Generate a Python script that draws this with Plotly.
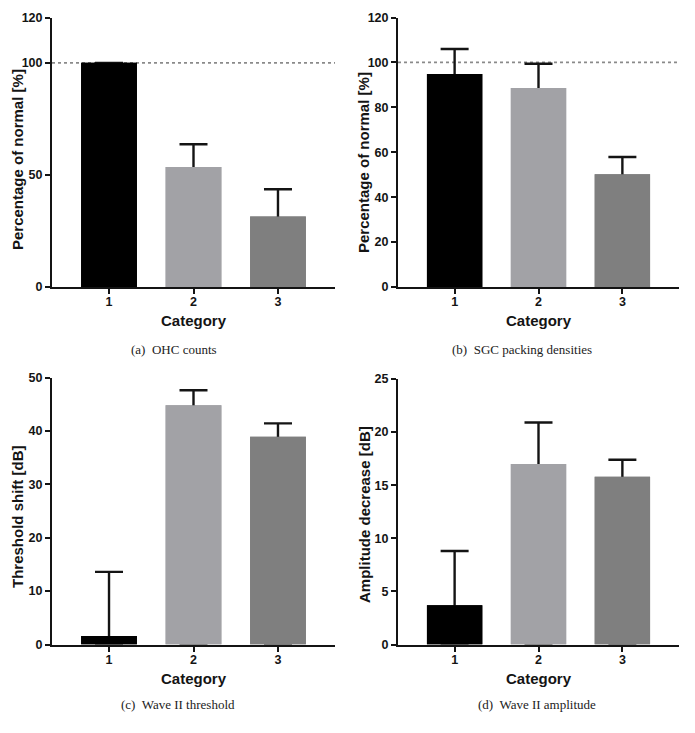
import plotly.graph_objects as go

# The page body adds an 8px margin, so the figure is drawn 8px in from the
# window's corner; size it so it fits the 695x733 window exactly.
OFF = 8
WIN_W, WIN_H = 695, 733
W, H = WIN_W - OFF, WIN_H - OFF

categories = [1, 2, 3]
bar_colors = ["#000000", "#a2a2a6", "#7f7f7f"]

# Panel data (means and upper SD)
ohc_mean = [100.0, 53.5, 31.4]
ohc_err = [0.0, 10.2, 12.2]

sgc_mean = [94.8, 88.6, 50.2]
sgc_err = [11.2, 10.8, 7.7]

thr_mean = [1.6, 44.8, 38.9]
thr_err = [12.0, 2.8, 2.5]

amp_mean = [3.7, 17.0, 15.8]
amp_err = [5.1, 3.9, 1.6]

panels = [
    dict(mean=ohc_mean, err=ohc_err, ytitle="Percentage of normal [%]", yrange=[0, 120],
         ytick=[0, 50, 100, 120], caption="(a)  OHC counts", ref=100),
    dict(mean=sgc_mean, err=sgc_err, ytitle="Percentage of normal [%]", yrange=[0, 120],
         ytick=[0, 20, 40, 60, 80, 100, 120], caption="(b)  SGC packing densities", ref=100),
    dict(mean=thr_mean, err=thr_err, ytitle="Threshold shift [dB]", yrange=[0, 50],
         ytick=[0, 10, 20, 30, 40, 50], caption="(c)  Wave II threshold", ref=None),
    dict(mean=amp_mean, err=amp_err, ytitle="Amplitude decrease [dB]", yrange=[0, 25],
         ytick=[0, 5, 10, 15, 20, 25], caption="(d)  Wave II amplitude", ref=None),
]

# window-pixel layout of each plot area: (left, right, top, bottom)
boxes = [(52, 335, 18, 287), (398, 679, 17.5, 287), (52, 335, 377.5, 644.5), (398, 679, 379, 644.5)]
ytitle_pos = [(17, 160), (364, 162), (17, 517), (364, 514)]
cat_y = [320, 320, 678, 678]
caption_pos = [(173.5, 350), (522, 350), (178, 704), (537, 704)]

def px(x):
    return (x - OFF) / W

def py(y):
    return 1 - (y - OFF) / H

fig = go.Figure()
annotations = []
shapes = []
INK = "#141414"
bold = dict(family="Liberation Sans, Arial, sans-serif", size=12.5, color=INK, weight="bold")
title_font = dict(family="Liberation Sans, Arial, sans-serif", size=15, color=INK, weight="bold")

for i, p in enumerate(panels):
    n = i + 1
    xa = "x" if n == 1 else f"x{n}"
    ya = "y" if n == 1 else f"y{n}"
    l, r, t, b = boxes[i]
    # bar with error bar reaching down to zero (lower part hidden by the cover bar and axis)
    fig.add_trace(go.Bar(
        x=categories, y=p["mean"], width=0.66,
        marker=dict(color=bar_colors, line=dict(width=0)),
        error_y=dict(type="data", array=p["err"], symmetric=False,
                     arrayminus=p["mean"], color=INK, thickness=2.4, width=14),
        xaxis=xa, yaxis=ya, showlegend=False, hoverinfo="skip",
    ))
    # cover bar drawn on top so that only the upper error whisker is visible
    fig.add_trace(go.Bar(
        x=categories, y=p["mean"], width=0.66,
        marker=dict(color=bar_colors, line=dict(width=0)),
        xaxis=xa, yaxis=ya, showlegend=False,
    ))
    axx = dict(domain=[px(l), px(r)], range=[0.325, 3.675], tickvals=categories,
               ticks="outside", ticklen=5, tickwidth=2, tickcolor=INK,
               showline=True, linewidth=2, linecolor=INK, showgrid=False,
               zeroline=False, tickfont=bold, anchor=ya, fixedrange=True,
               automargin=False, layer="above traces", ticklabelstandoff=-3)
    axy = dict(domain=[py(b), py(t)], range=p["yrange"], tickvals=p["ytick"],
               ticks="outside", ticklen=5, tickwidth=2, tickcolor=INK,
               showline=True, linewidth=2, linecolor=INK, showgrid=False,
               zeroline=False, tickfont=bold, anchor=xa, fixedrange=True,
               automargin=False, layer="above traces")
    fig.update_layout(**{("xaxis" if n == 1 else f"xaxis{n}"): axx,
                         ("yaxis" if n == 1 else f"yaxis{n}"): axy})
    if p["ref"] is not None:
        shapes.append(dict(type="line", xref=f"{xa} domain", yref=ya, x0=0, x1=1,
                           y0=p["ref"], y1=p["ref"], layer="below",
                           line=dict(color="#8a8a8a", width=1.8, dash="dot")))
    tx, ty = ytitle_pos[i]
    annotations.append(dict(text=p["ytitle"], x=px(tx), y=py(ty), xref="paper", yref="paper",
                            textangle=-90, showarrow=False, xanchor="center", yanchor="middle",
                            font=title_font))
    annotations.append(dict(text="Category", x=px((l + r) / 2), y=py(cat_y[i]), xref="paper",
                            yref="paper", showarrow=False, xanchor="center", yanchor="middle",
                            font=title_font))
    cx, cy = caption_pos[i]
    annotations.append(dict(text=p["caption"], x=px(cx), y=py(cy), xref="paper", yref="paper",
                            showarrow=False, xanchor="center", yanchor="middle",
                            font=dict(family="Liberation Serif, Times New Roman, serif", size=13,
                                      color="#222222")))

fig.update_layout(width=W, height=H, margin=dict(l=0, r=0, t=0, b=0, autoexpand=False),
                  paper_bgcolor="white", plot_bgcolor="white", template="none",
                  annotations=annotations, shapes=shapes, barmode="overlay")

fig.write_html("out.html")
